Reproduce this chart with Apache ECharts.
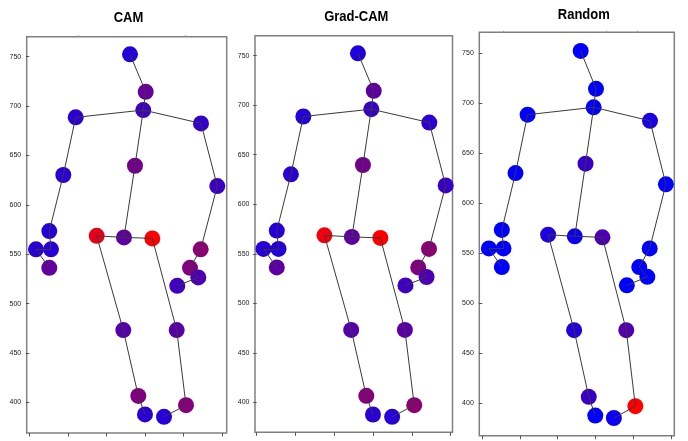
<!DOCTYPE html>
<html>
<head>
<meta charset="utf-8">
<script src="https://cdn.jsdelivr.net/npm/echarts@6.0.0/dist/echarts.min.js"></script>
<style>
html,body{margin:0;padding:0;background:#fff;}
#chart{width:688px;height:441px;}
</style>
</head>
<body>
<div id="chart"></div>
<script>
// Joint names (Kinect-style 25-joint skeleton)
const joints = ['head','neck','spineShoulder','shoulderL','elbowL','wristL','handL','handTipL','thumbL',
  'shoulderR','elbowR','wristR','handR','handTipR','thumbR','spineMid','spineBase',
  'hipL','kneeL','ankleL','footL','hipR','kneeR','ankleR','footR'];
// Joint coordinates
const jointX = [260.9, 301.6, 295.3, 120.2, 88.1, 51.8, 56.2, 17.4, 51.8,
  444.8, 487.0, 444.0, 416.3, 437.8, 383.4, 273.8, 245.3,
  174.6, 243.5, 282.4, 299.7, 318.7, 381.9, 406.0, 349.0];
const jointY = [752.4, 714.5, 696.0, 688.6, 630.2, 573.4, 554.9, 554.9, 536.2,
  682.5, 619.0, 554.9, 536.2, 526.5, 518.0, 639.6, 567.0,
  568.6, 473.1, 406.5, 387.7, 566.0, 473.1, 397.1, 385.3];
// Bones (pairs of joint indices)
const bones = [[0,1],[1,2],[2,3],[3,4],[4,5],[5,6],[6,7],[7,8],
  [2,9],[9,10],[10,11],[11,12],[12,13],[13,14],
  [2,15],[15,16],[16,17],[17,18],[18,19],[19,20],[16,21],[21,22],[22,23],[23,24]];
// Per-joint importance (0 = blue, 1 = red)
const camWeights = [0.15, 0.40, 0.25, 0.17, 0.17, 0.15, 0.15, 0.17, 0.38,
  0.20, 0.23, 0.55, 0.50, 0.30, 0.25, 0.45, 0.37,
  0.90, 0.33, 0.50, 0.17, 1.00, 0.35, 0.52, 0.15];
const gradCamWeights = [0.13, 0.36, 0.21, 0.15, 0.17, 0.14, 0.15, 0.15, 0.36,
  0.17, 0.22, 0.55, 0.50, 0.30, 0.25, 0.45, 0.37,
  0.95, 0.33, 0.52, 0.17, 1.00, 0.35, 0.55, 0.15];
const randomWeights = [0.00, 0.00, 0.00, 0.00, 0.00, 0.00, 0.00, 0.00, 0.00,
  0.10, 0.00, 0.00, 0.00, 0.00, 0.00, 0.22, 0.05,
  0.12, 0.15, 0.22, 0.00, 0.30, 0.32, 1.00, 0.05];
const panelTitles = ['CAM', 'Grad-CAM', 'Random'];
const yTickValues = [400, 450, 500, 550, 600, 650, 700, 750];
const xTickValues = [0, 100, 200, 300, 400, 500];
const topTickValues = [[127, 403], [], [56, 328, 412]];

const weightSets = [camWeights, gradCamWeights, randomWeights];

// Layout (pixels)
const panels = [
  {left: 26.7, top: 36.7, width: 200, height: 396.3, xMin: -6.7, xMax: 511.4, yMin: 368.9, yMax: 770.3, tx: 128.5, ty: 18},
  {left: 255, top: 35.7, width: 197.5, height: 396.6, xMin: -4.4, xMax: 504.6, yMin: 369.7, yMax: 770.2, tx: 356.3, ty: 17.2},
  {left: 479.3, top: 32.3, width: 195, height: 403.4, xMin: -8, xMax: 509.3, yMin: 367.6, yMax: 771, tx: 583.8, ty: 15.3}
];

const grids = [], xAxes = [], yAxes = [], series = [], graphics = [];
panels.forEach((p, i) => {
  grids.push({left: p.left, top: p.top, width: p.width, height: p.height,
    show: true, borderColor: '#808080', borderWidth: 1.5, backgroundColor: '#fff'});
  xAxes.push({type: 'value', gridIndex: i, min: p.xMin, max: p.xMax, position: 'bottom',
    axisLine: {show: false}, splitLine: {show: false},
    axisTick: {show: true, customValues: xTickValues, length: 3.5, lineStyle: {color: '#555', width: 1}},
    axisLabel: {show: false}});
  xAxes.push({type: 'value', gridIndex: i, min: p.xMin, max: p.xMax, position: 'top',
    axisLine: {show: false}, splitLine: {show: false},
    axisTick: {show: topTickValues[i].length > 0, customValues: topTickValues[i].length ? topTickValues[i] : [0], length: 1.5, lineStyle: {color: '#999', width: 1}},
    axisLabel: {show: false}});
  yAxes.push({type: 'value', gridIndex: i, min: p.yMin, max: p.yMax,
    axisLine: {show: false}, splitLine: {show: false},
    axisTick: {show: true, customValues: yTickValues, length: 3.5, lineStyle: {color: '#555', width: 1}},
    axisLabel: {show: true, customValues: yTickValues, fontSize: 7, fontFamily: 'Liberation Sans', color: '#222', margin: 5.5}});
  const w = weightSets[i];
  series.push({type: 'scatter', xAxisIndex: 2 * i, yAxisIndex: i, symbolSize: 16, z: 2,
    itemStyle: {opacity: 1},
    data: jointX.map((x, k) => [x, jointY[k], w[k]])});
  series.push({type: 'lines', coordinateSystem: 'cartesian2d', xAxisIndex: 2 * i, yAxisIndex: i, z: 3,
    lineStyle: {color: '#3a3a3a', width: 1, opacity: 1},
    data: bones.map(b => ({coords: [[jointX[b[0]], jointY[b[0]]], [jointX[b[1]], jointY[b[1]]]]}))});
  graphics.push({type: 'text', x: p.tx, y: p.ty, scaleY: 1.15,
    style: {text: panelTitles[i], fontSize: 13, fontWeight: 'bold', fontFamily: 'Liberation Sans',
      fill: '#000', textAlign: 'center', textVerticalAlign: 'middle'}});
});

const chart = echarts.init(document.getElementById('chart'), null, {renderer: 'canvas'});
chart.setOption({
  animation: false,
  backgroundColor: '#fff',
  grid: grids,
  xAxis: xAxes,
  yAxis: yAxes,
  visualMap: {show: false, type: 'continuous', min: 0, max: 1, dimension: 2,
    seriesIndex: [0, 2, 4], inRange: {color: ['#0000ff', '#ff0000']}},
  series: series,
  graphic: graphics
});
</script>
</body>
</html>
